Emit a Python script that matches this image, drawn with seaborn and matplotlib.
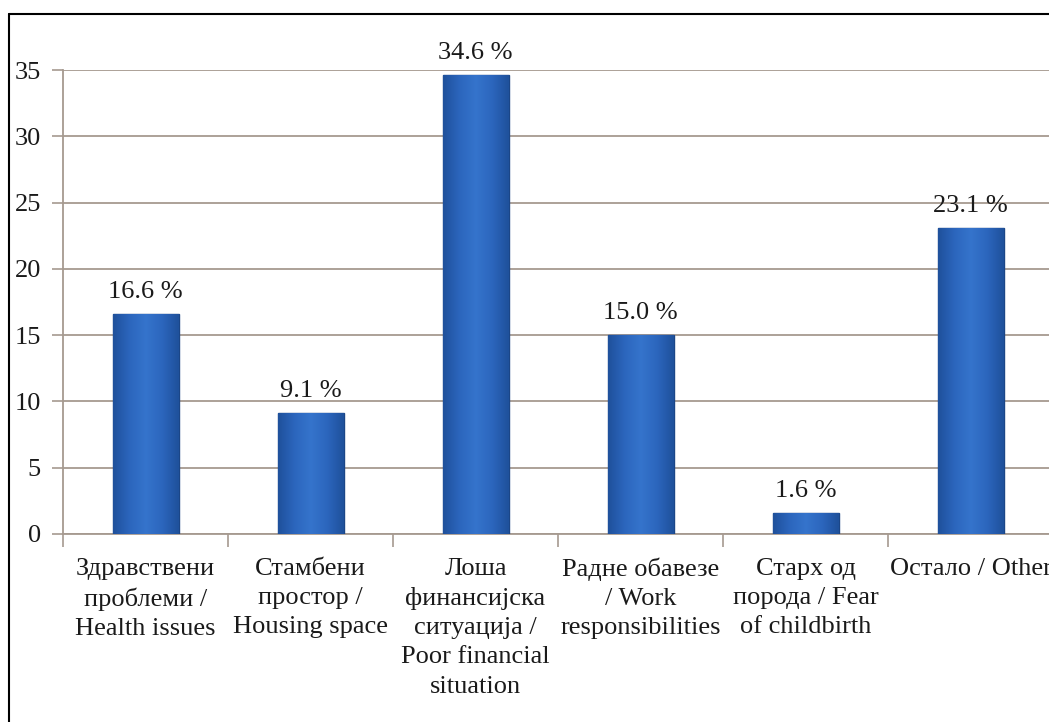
import numpy as np
import pandas as pd
import matplotlib
matplotlib.use('Agg')
import matplotlib.pyplot as plt
from matplotlib.lines import Line2D
from matplotlib.colors import LinearSegmentedColormap
import seaborn as sns

categories = [
    'Здравствени\nпроблеми /\nHealth issues',
    'Стамбени\nпростор /\nHousing space',
    'Лоша\nфинансијска\nситуација /\nPoor financial\nsituation',
    'Радне обавезе\n/ Work\nresponsibilities',
    'Старх од\nпорода / Fear\nof childbirth',
    'Остало / Other',
]
values = [16.6, 9.1, 34.6, 15.0, 1.6, 23.1]
yticks = [0, 5, 10, 15, 20, 25, 30, 35]

sns.set_style('white')
plt.rcParams['font.family'] = ['Liberation Serif', 'DejaVu Serif']

grid_col = '#a69a90'
fs = 19

fig = plt.figure(figsize=(10.49, 7.22), dpi=100)
ax = fig.add_axes([63 / 1049, 1 - 534 / 722, 990 / 1049, (534 - 70) / 722])

df = pd.DataFrame({'cat': categories, 'val': values})
sns.barplot(data=df, x='cat', y='val', width=0.4, color='#2f6cc4',
            edgecolor='#1b4687', linewidth=1.0, ax=ax, zorder=3)

# fake the glossy cylinder look with a clipped gradient
cmap = LinearSegmentedColormap.from_list(
    'bar', ['#1f519c', '#2c66bd', '#3574cc', '#2c66bd', '#1f519c'])
grad = np.linspace(0, 1, 64).reshape(1, -1)
for p in ax.patches:
    x0, y0 = p.get_x(), p.get_y()
    w, h = p.get_width(), p.get_height()
    im = ax.imshow(grad, cmap=cmap, aspect='auto', extent=[x0, x0 + w, y0, y0 + h],
                   zorder=3.5, interpolation='bicubic')
    im.set_clip_path(p)

ax.set_xlim(-0.5, 5.5)
ax.set_ylim(0, 35)
ax.set_yticks(yticks)
ax.set_yticklabels([str(t) for t in yticks])
ax.yaxis.grid(True, color=grid_col, linewidth=1.3, zorder=0)
ax.set_axisbelow(True)

for c in ax.containers:
    ax.bar_label(c, labels=[f'{v:.1f} %' for v in values], padding=8,
                 fontsize=fs, color='#1a1a1a')

ax.set_xlabel('')
ax.set_ylabel('')
ax.tick_params(axis='x', which='major', length=0, pad=17, labelsize=fs, labelcolor='#1a1a1a')
ax.set_xticks(np.arange(-0.5, 6.0, 1.0), minor=True)
ax.tick_params(axis='x', which='minor', length=9, width=1.2, color=grid_col, direction='out', bottom=True)
ax.tick_params(axis='y', length=8, width=1.2, color=grid_col, pad=8, labelsize=fs,
               labelcolor='#1a1a1a', left=True)
for lab in ax.get_xticklabels():
    lab.set_linespacing(1.42)

for s in ['top', 'right']:
    ax.spines[s].set_visible(False)
for s in ['left', 'bottom']:
    ax.spines[s].set_color(grid_col)
    ax.spines[s].set_linewidth(1.3)

# outer frame of the original figure (cropped on right and bottom)
fig.add_artist(Line2D([9 / 1049, 9 / 1049], [0, 1 - 14 / 722], color='black', lw=1.5))
fig.add_artist(Line2D([9 / 1049, 1], [1 - 14 / 722, 1 - 14 / 722], color='black', lw=1.5))

fig.savefig('out.png', dpi=100)
